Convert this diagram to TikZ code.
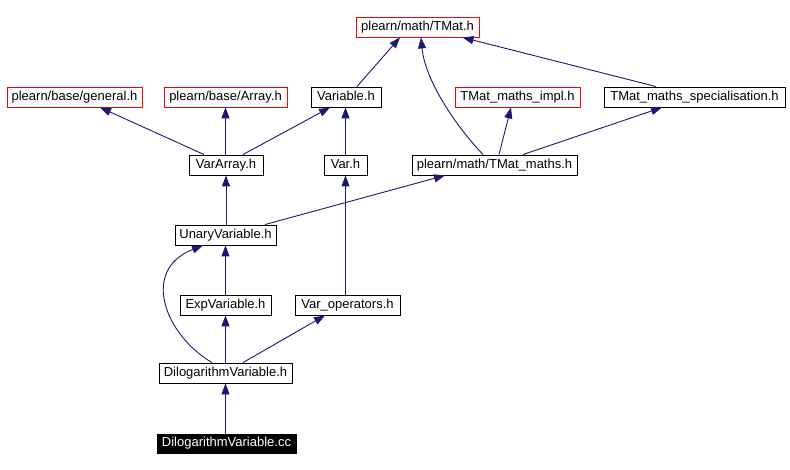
\documentclass[tikz,border=0pt]{standalone}
\usepackage{fontspec}
\setmainfont{Liberation Sans}
\usetikzlibrary{arrows.meta}

\definecolor{edgeblue}{HTML}{191970}

\begin{document}
\begin{tikzpicture}[
    x=1pt, y=-1pt,
    % Define styles
    file/.style={
        draw=black,
        fill=white,
        line width=0.9pt,
        minimum width=#1,
        minimum height=20pt,
        inner xsep=2pt,
        inner ysep=0pt,
        text height=9.4pt,
        text depth=2.7pt,
        font=\fontsize{13}{15}\selectfont
    },
    extfile/.style={
        file=#1,
        draw=red
    },
    mainfile/.style={
        file=#1,
        fill=black,
        text=white,
        minimum height=19pt
    },
    dep/.style={
        {Triangle[length=11pt,width=8pt]}-,
        edgeblue,
        line width=0.9pt
    }
]
\useasboundingbox (0,0) rectangle (790,470);

% ============================================================
% Row 1: TMat header
% ============================================================
\node[extfile=123pt] (tmat) at (417.5,27) {plearn/math/TMat.h};

% ============================================================
% Row 2: base headers
% ============================================================
\node[extfile=135pt] (general) at (74.5,97) {plearn/base/general.h};
\node[extfile=123pt] (array) at (225.5,97) {plearn/base/Array.h};
\node[file=70pt] (variable) at (346,97) {Variable.h};
\node[extfile=125pt] (impl) at (517.5,97) {TMat\_maths\_impl.h};
\node[file=181pt] (spec) at (694.5,97) {TMat\_maths\_specialisation.h};

% ============================================================
% Row 3
% ============================================================
\node[file=74pt] (vararray) at (226,165) {VarArray.h};
\node[file=43pt] (varh) at (345.5,165) {Var.h};
\node[file=165pt] (tmaths) at (494.5,165) {plearn/math/TMat\_maths.h};

% ============================================================
% Rows 4-6: variables
% ============================================================
\node[file=101pt] (unary) at (225.5,235) {UnaryVariable.h};
\node[file=91pt] (expvar) at (225.5,305) {ExpVariable.h};
\node[file=105pt] (varops) at (347.5,305) {Var\_operators.h};
\node[file=133pt] (dilogh) at (225.5,373) {DilogarithmVariable.h};
\node[mainfile=139pt] (dilogcc) at (226.5,443.5) {DilogarithmVariable.cc};

% ============================================================
% Include dependencies
% ============================================================
% to TMat.h
\draw[dep] ([xshift=-17.5pt]tmat.south) -- ([xshift=11pt]variable.north);
\draw[dep] ([xshift=3.5pt]tmat.south) .. controls (425,80) and (455,125) .. ([xshift=-11.5pt]tmaths.north);
\draw[dep] ([xshift=45pt]tmat.south) -- ([xshift=-38.5pt]spec.north);

% to row 2
\draw[dep] ([xshift=-6.5pt]impl.south) -- ([xshift=4.5pt]tmaths.north);
\draw[dep] ([xshift=-32.5pt]spec.south) -- ([xshift=28.5pt]tmaths.north);
\draw[dep] ([xshift=25.5pt]general.south) -- ([xshift=-22pt]vararray.north);
\draw[dep] (array.south) -- (array.south |- vararray.north);
\draw[dep] ([xshift=-16pt]variable.south) -- ([xshift=17pt]vararray.north);
\draw[dep] (variable.south -| varh.north) -- (varh.north);

% to row 3
\draw[dep] (vararray.south) -- (unary.north -| vararray.south);
\draw[dep] (varh.south) -- (varh.south |- varops.north);
\draw[dep] ([xshift=-49.5pt]tmaths.south) -- ([xshift=39.5pt]unary.north);

% to UnaryVariable.h and below
\draw[dep] (unary.south) -- (expvar.north);
\draw[dep] ([xshift=-22.5pt]unary.south) .. controls (140,270) and (165,335) .. ([xshift=-13.5pt]dilogh.north);
\draw[dep] (expvar.south) -- (dilogh.north);
\draw[dep] ([xshift=-22.5pt]varops.south) -- ([xshift=17.5pt]dilogh.north);
\draw[dep] (dilogh.south) -- (dilogh.south |- dilogcc.north);

\end{tikzpicture}
\end{document}
